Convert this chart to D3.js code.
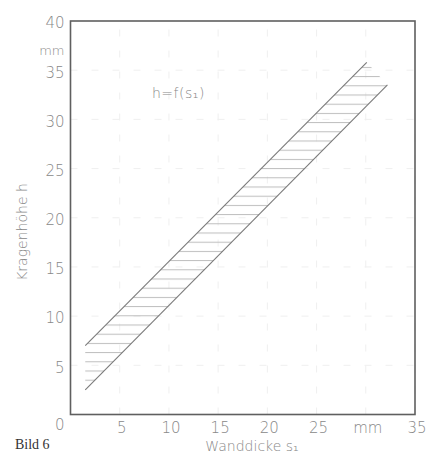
<!DOCTYPE html>
<html>
<head>
<meta charset="utf-8">
<script src="https://cdn.jsdelivr.net/npm/d3@7"></script>
<style>
  html, body { margin: 0; padding: 0; background: #fff; }
  svg { display: block; }
  text { font-family: "DejaVu Sans", sans-serif; font-weight: 200; fill: #888; }
</style>
</head>
<body>
<svg id="chart" width="426" height="454"></svg>
<script>
// ---- data ----
const xTickValues = [5, 10, 15, 20, 25, 30, 35];
const xTickLabels = ["5", "10", "15", "20", "25", "mm", "35"];
const yTickValues = [0, 5, 10, 15, 20, 25, 30, 35, 40];
const yTickLabels = ["0", "5", "10", "15", "20", "25", "30", "35", "40"];
const gridValues = [5, 10, 15, 20, 25, 30, 35];
// band limits (s1 in mm, h in mm)
const upperLine = [[1.5, 7.0], [30.1, 35.8]];
const lowerLine = [[1.5, 2.5], [32.2, 33.5]];

const svg = d3.select("#chart");
const x = d3.scaleLinear().domain([0, 35]).range([70.5, 415]);
const y = d3.scaleLinear().domain([0, 40]).range([414.5, 21]);

// hatch pattern
const defs = svg.append("defs");
const pat = defs.append("pattern")
  .attr("id", "hatch").attr("patternUnits", "userSpaceOnUse")
  .attr("width", 10).attr("height", 9.2).attr("y", y(2.5) - 1);
pat.append("line").attr("x1", 0).attr("x2", 10).attr("y1", 0.5).attr("y2", 0.5)
  .attr("stroke", "#bdbdbd").attr("stroke-width", 1);

// faint grid
const grid = svg.append("g").attr("stroke", "#efefef").attr("stroke-width", 1)
  .attr("stroke-dasharray", "7 14");
grid.selectAll(".gx").data(gridValues).join("line")
  .attr("x1", d => x(d)).attr("x2", d => x(d)).attr("y1", y(0)).attr("y2", y(40));
grid.selectAll(".gy").data(gridValues).join("line")
  .attr("x1", x(0)).attr("x2", x(35)).attr("y1", d => y(d)).attr("y2", d => y(d));

// hatched band
const poly = [upperLine[0], upperLine[1], lowerLine[1], lowerLine[0]];
svg.append("path")
  .attr("d", "M" + poly.map(p => [x(p[0]), y(p[1])].join(",")).join("L") + "Z")
  .attr("fill", "url(#hatch)");

const line = d3.line().x(d => x(d[0])).y(d => y(d[1]));
[upperLine, lowerLine].forEach(l => {
  svg.append("path").attr("d", line(l)).attr("fill", "none")
    .attr("stroke", "#7a7a7a").attr("stroke-width", 1.1);
});

// frame
svg.append("rect")
  .attr("x", x(0)).attr("y", y(40))
  .attr("width", x(35) - x(0)).attr("height", y(0) - y(40))
  .attr("fill", "none").attr("stroke", "#5f5f5f").attr("stroke-width", 1.6);

// axes (labels only)
const xAxis = d3.axisBottom(x).tickValues(xTickValues)
  .tickFormat((d, i) => xTickLabels[i]).tickSize(0).tickPadding(8);
const gx = svg.append("g").attr("transform", `translate(1.5,${y(0)})`).call(xAxis);
gx.select(".domain").remove();
gx.selectAll("text").style("font-size", "15px").style("font-family", "DejaVu Sans")
  .style("font-weight", "200").attr("fill", "#888");

const yAxis = d3.axisLeft(y).tickValues(yTickValues)
  .tickFormat((d, i) => yTickLabels[i]).tickSize(0).tickPadding(6);
const gy = svg.append("g").attr("transform", `translate(${x(0)},2)`).call(yAxis);
gy.select(".domain").remove();
gy.selectAll("text").style("font-size", "15px").style("font-family", "DejaVu Sans")
  .style("font-weight", "200").attr("fill", "#888")
  .attr("dy", (d) => d === 0 ? "0.85em" : "0.32em");

// unit label on y
svg.append("text").attr("x", x(0) - 6).attr("y", y(37.0)).attr("dy", "0.32em")
  .attr("text-anchor", "end").style("font-size", "13px").text("mm");

// axis titles
svg.append("text").attr("x", 252).attr("y", 451)
  .attr("text-anchor", "middle").style("font-size", "14px")
  .text("Wanddicke s\u2081");
svg.append("text")
  .attr("transform", "translate(27,232) rotate(-90)")
  .attr("text-anchor", "middle").style("font-size", "14px")
  .text("Kragenhöhe h");

// formula
svg.append("text").attr("x", 152).attr("y", 98)
  .style("font-size", "14px").style("letter-spacing", "0.5px").text("h=f(s\u2081)");

// caption (at the bottom edge)
svg.append("text").attr("x", 15).attr("y", 449)
  .style("font-size", "14px").style("fill", "#333").style("font-weight", "400")
  .style("font-family", "Liberation Serif, serif")
  .text("Bild 6");
</script>
</body>
</html>
